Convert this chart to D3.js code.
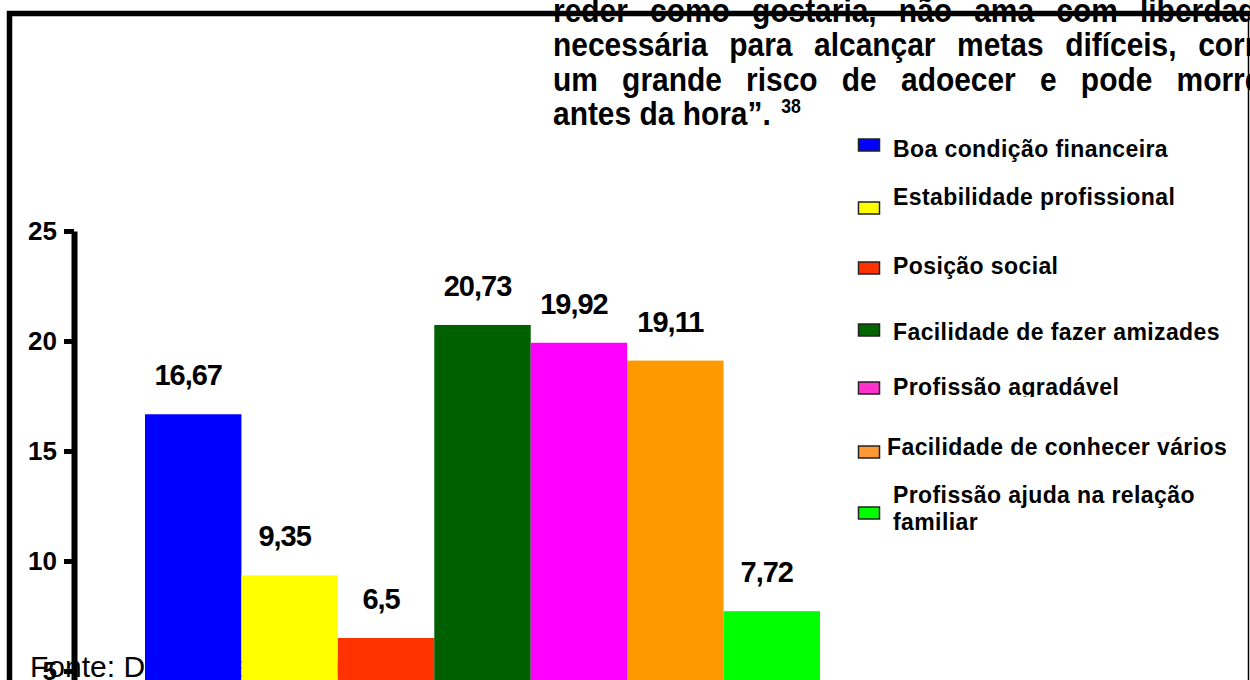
<!DOCTYPE html>
<html>
<head>
  <meta charset="utf-8">
  <script src="https://d3js.org/d3.v7.min.js"></script>
  <style>
    body { margin: 0; background: #fff; }
    svg { display: block; font-family: "Liberation Sans", Arial, sans-serif; }
  </style>
</head>
<body>
  <script>
    // data
    var categories = ["Boa condição financeira", "Estabilidade profissional", "Posição social",
      "Facilidade de fazer amizades", "Profissão agradável", "Facilidade de conhecer vários",
      "Profissão ajuda na relação familiar"];
    var values = [16.67, 9.35, 6.5, 20.73, 19.92, 19.11, 7.72];
    var barColors = ["#0000ff", "#ffff00", "#ff3300", "#006000", "#ff00ff", "#ff9900", "#00ff00"];
    var legendColors = ["#0000ff", "#ffff00", "#ff3300", "#006600", "#ff33cc", "#ff9933", "#00ff00"];
    var legendLines = [["Boa condição financeira"], ["Estabilidade profissional"], ["Posição social"],
      ["Facilidade de fazer amizades"], ["Profissão agradável"], ["Facilidade de conhecer vários"],
      ["Profissão ajuda na relação", "familiar"]];
    var yTicks = [5, 10, 15, 20, 25];
    var quoteLines = ["reder como gostaria, não ama com liberdade",
      "necessária para alcançar metas difíceis, corre",
      "um grande risco de adoecer e pode morrer"];
    var quoteLast = "antes da hora”.";
    var quoteRef = "38";
    var sourceText = "Fonte: Dados da pesquisa";

    // layout
    var width = 1250, height = 680;
    var legendRows = [
      { sy: 145, ty: 157, tx: 893 },
      { sy: 208, ty: 205, tx: 893 },
      { sy: 268, ty: 274, tx: 893 },
      { sy: 330, ty: 340, tx: 893 },
      { sy: 388, ty: 395, tx: 893, clip: 397 },
      { sy: 452, ty: 455, tx: 887 },
      { sy: 513, ty: 503, tx: 893 }
    ];

    var svg = d3.select("body").append("svg")
      .attr("width", width)
      .attr("height", height);

    svg.append("rect").attr("width", width).attr("height", height).attr("fill", "#fff");

    // justified quote at the top (tall, slightly narrow lettering)
    var qx = 553, qw = 720, qy = 22, qstep = 34.5, qsx = 0.88;
    var quote = svg.append("g")
      .attr("transform", "translate(" + qx + ",0) scale(" + qsx + ",1)")
      .attr("font-weight", "bold")
      .attr("font-size", 34);
    quoteLines.forEach(function(line, i) {
      var words = line.split(" ");
      var ts = quote.selectAll(".w" + i).data(words).enter()
        .append("text")
        .attr("class", "w" + i)
        .attr("y", qy + i * qstep)
        .text(d => d);
      var widths = [];
      ts.each(function() { widths.push(this.getComputedTextLength()); });
      var gap = (qw / qsx - d3.sum(widths)) / (words.length - 1);
      var pos = 0;
      ts.attr("x", function(d, j) {
        var p = pos;
        pos += widths[j] + gap;
        return p;
      });
    });
    var last = quote.append("text")
      .attr("x", 0)
      .attr("y", qy + 3 * qstep)
      .text(quoteLast);
    quote.append("text")
      .attr("x", last.node().getComputedTextLength() + 12)
      .attr("y", qy + 3 * qstep - 12)
      .attr("font-size", 20)
      .text(quoteRef);

    // frame
    svg.append("line").attr("x1", 7).attr("x2", width).attr("y1", 13.5).attr("y2", 13.5)
      .attr("stroke", "#000").attr("stroke-width", 5.5);
    svg.append("line").attr("x1", 9.5).attr("x2", 9.5).attr("y1", 11).attr("y2", height)
      .attr("stroke", "#000").attr("stroke-width", 5.5);
    svg.append("line").attr("x1", 1248.5).attr("x2", 1248.5).attr("y1", 11).attr("y2", height)
      .attr("stroke", "#000").attr("stroke-width", 1.5);

    // source line, hidden behind the bars
    svg.append("text")
      .attr("x", 30)
      .attr("y", 677)
      .attr("font-size", 30)
      .text(sourceText);

    // scales
    var x = d3.scaleBand()
      .domain(categories)
      .range([145, 820])
      .padding(0);
    var y = d3.scaleLinear()
      .domain([0, 25])
      .range([781, 231]);

    svg.selectAll(".bar").data(values).enter()
      .append("rect")
      .attr("class", "bar")
      .attr("x", (d, i) => x(categories[i]))
      .attr("y", d => y(d))
      .attr("width", x.bandwidth())
      .attr("height", d => y(0) - y(d))
      .attr("fill", (d, i) => barColors[i]);

    svg.selectAll(".val").data(values).enter()
      .append("text")
      .attr("class", "val")
      .attr("x", (d, i) => x(categories[i]) + x.bandwidth() / 2 - 5)
      .attr("y", d => y(d) - 29)
      .attr("text-anchor", "middle")
      .attr("font-size", 29)
      .attr("font-weight", "bold")
      .attr("letter-spacing", -1)
      .text(d => String(d).replace(".", ","));

    // y axis
    var yAxis = d3.axisLeft(y)
      .tickValues(yTicks)
      .tickSize(10)
      .tickSizeOuter(0)
      .tickPadding(7);
    var ga = svg.append("g")
      .attr("transform", "translate(74,0)")
      .call(yAxis);
    ga.select(".domain").attr("stroke", "#000").attr("stroke-width", 6);
    ga.selectAll(".tick line").attr("stroke", "#000").attr("stroke-width", 5);
    ga.selectAll(".tick text")
      .attr("fill", "#000")
      .attr("font-size", 26)
      .attr("font-weight", "bold")
      .attr("font-family", "Liberation Sans, Arial, sans-serif");

    // legend
    var defs = svg.append("defs");
    var leg = svg.append("g").attr("font-size", 23).attr("font-weight", "bold").attr("letter-spacing", 0.4);
    legendLines.forEach(function(lines, i) {
      var r = legendRows[i];
      var item = leg.append("g");
      if (r.clip) {
        defs.append("clipPath").attr("id", "lc" + i)
          .append("rect").attr("x", 850).attr("y", 0).attr("width", 400).attr("height", r.clip);
        item.attr("clip-path", "url(#lc" + i + ")");
      }
      item.append("rect")
        .attr("x", 858.5)
        .attr("y", r.sy - 6)
        .attr("width", 21)
        .attr("height", 12)
        .attr("fill", legendColors[i])
        .attr("stroke", "#222")
        .attr("stroke-width", 1.5);
      item.selectAll("text").data(lines).enter()
        .append("text")
        .attr("x", r.tx)
        .attr("y", (d, j) => r.ty + j * 27)
        .text(d => d);
    });
  </script>
</body>
</html>
